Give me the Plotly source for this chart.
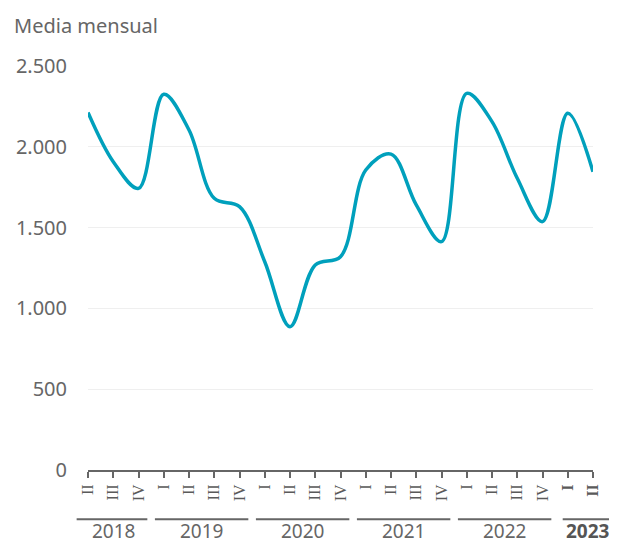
import plotly.graph_objects as go

years = ["2018", "2018", "2018",
         "2019", "2019", "2019", "2019",
         "2020", "2020", "2020", "2020",
         "2021", "2021", "2021", "2021",
         "2022", "2022", "2022", "2022",
         "2023", "2023"]
quarters = ["II", "III", "IV",
            "I", "II", "III", "IV",
            "I", "II", "III", "IV",
            "I", "II", "III", "IV",
            "I", "II", "III", "IV",
            "I", "II"]
values = [2213, 1908, 1743,
          2325, 2104, 1681, 1630,
          1289, 887, 1269, 1320,
          1856, 1955, 1640, 1413,
          2331, 2156, 1805, 1537,
          2207, 1846]
y_ticks = [0, 500, 1000, 1500, 2000, 2500]
y_ticktext = ["0", "500", "1.000", "1.500", "2.000", "2.500"]
bold_year = "2023"

FONT = "Noto Sans"
GREY = "#666666"
LINE = "#00a0bc"

idx = list(range(len(values)))
ticktext = [f"<b>{q}</b>" if y == bold_year else q for q, y in zip(quarters, years)]

fig = go.Figure()
fig.add_trace(go.Scatter(
    x=idx, y=values, mode="lines",
    line=dict(color=LINE, width=3.5, shape="spline", smoothing=1.0),
    hoverinfo="skip",
))

xmin, xmax = 0, len(values) - 1

year_list = []
for y in years:
    if y not in year_list:
        year_list.append(y)

roman = ["I", "II", "III", "IV"]
shapes = []
annotations = []
for y in year_list:
    pos = [i for i, yy in enumerate(years) if yy == y]
    qs = [quarters[i] for i in pos]
    first_q = roman.index(qs[0])
    start = pos[0] - first_q - 0.5 + 0.15
    end = pos[0] - first_q + 3 + 0.5 - 0.15
    if y == year_list[0]:
        start = pos[0] - 0.45
    if y == year_list[-1]:
        start = pos[0] - 0.2
        end = pos[-1] + 1.5
    d0 = (start - xmin) / (xmax - xmin)
    d1 = (end - xmin) / (xmax - xmin)
    shapes.append(dict(type="line", xref="x domain", yref="paper",
                       x0=d0, x1=d1, y0=-0.122, y1=-0.122,
                       line=dict(color=GREY, width=2)))
    center = sum(pos) / len(pos)
    if y == year_list[-1]:
        center = pos[-1] - 0.2
    label = f"<b>{y}</b>" if y == bold_year else y
    annotations.append(dict(text=label, xref="x", yref="paper",
                            x=center, y=-0.151, yanchor="middle",
                            xanchor="center", showarrow=False,
                            font=dict(family=FONT, size=19,
                                      color="#555555" if y == bold_year else GREY)))

annotations.append(dict(text="Media mensual", xref="paper", yref="paper",
                        x=-0.150, xanchor="left", y=1.10, yanchor="middle",
                        showarrow=False,
                        font=dict(family=FONT, size=20, color=GREY)))

fig.update_layout(
    width=609, height=536,
    margin=dict(l=80, r=24, t=58, b=74, autoexpand=False),
    paper_bgcolor="white", plot_bgcolor="white",
    showlegend=False,
    shapes=shapes,
    annotations=annotations,
    font=dict(family=FONT, color=GREY),
    xaxis=dict(
        range=[xmin, xmax],
        tickmode="array", tickvals=idx, ticktext=ticktext,
        tickangle=-90,
        ticks="outside", ticklen=6, tickwidth=2, tickcolor=GREY,
        showline=True, linecolor=GREY, linewidth=2,
        showgrid=False, zeroline=False, automargin=False,
        tickfont=dict(family="Liberation Serif", size=16, color="#5a5a5a"),
        fixedrange=True,
    ),
    yaxis=dict(
        range=[0, 2500],
        tickmode="array", tickvals=y_ticks, ticktext=y_ticktext,
        showgrid=True, gridcolor="#efefef", gridwidth=1,
        zeroline=False, showline=False, automargin=False,
        ticks="", ticklabelstandoff=20,
        tickfont=dict(family=FONT, size=20, color=GREY),
        fixedrange=True,
    ),
)

fig.write_html("out.html")
